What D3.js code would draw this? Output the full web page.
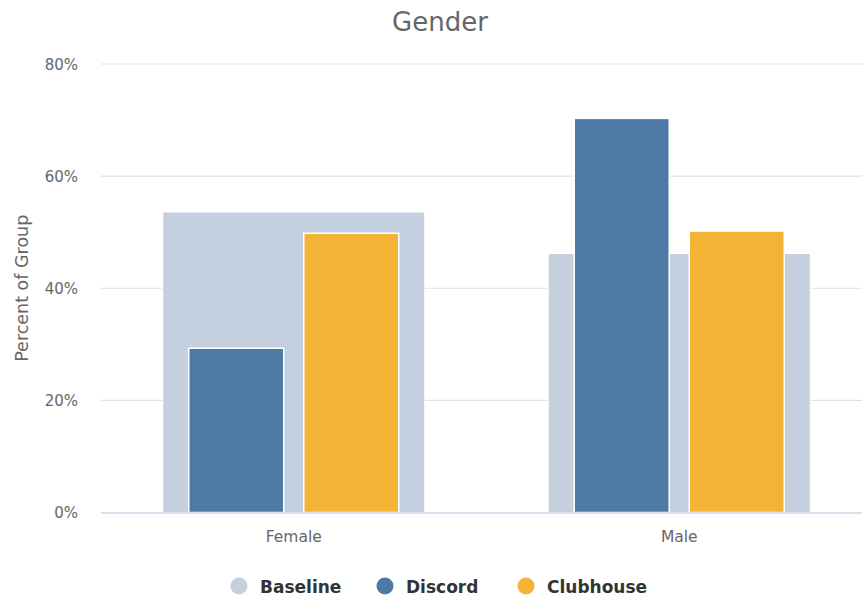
<!DOCTYPE html>
<html>
<head>
<meta charset="utf-8">
<script src="https://cdn.jsdelivr.net/npm/d3@7"></script>
<style>
  body { margin: 0; background: #fff; }
  text { font-family: "DejaVu Sans", "Lucida Grande", sans-serif; }
</style>
</head>
<body>
<svg id="chart" width="862" height="601"></svg>
<script>
var categories = ["Female", "Male"];
var baseline = [53.6, 46.2];
var discord = [29.3, 70.3];
var clubhouse = [49.8, 50.2];
var yTicks = [0, 20, 40, 60, 80];
var seriesNames = ["Baseline", "Discord", "Clubhouse"];
var colors = ["#c4d0df", "#4e79a5", "#f4b335"];

var svg = d3.select("#chart");
var plotLeft = 101, plotRight = 872, plotTop = 64, plotBottom = 512.5;

var x = d3.scaleBand().domain(categories).range([plotLeft, plotRight]);
var y = d3.scaleLinear().domain([0, 80]).range([plotBottom, plotTop]);

// title
svg.append("text")
  .attr("x", 440).attr("y", 31)
  .attr("text-anchor", "middle")
  .attr("fill", "#666").style("font-size", "26px")
  .text("Gender");

// grid
svg.append("g").selectAll("line").data(yTicks.filter(d => d > 0)).join("line")
  .attr("x1", plotLeft).attr("x2", 862)
  .attr("y1", d => y(d)).attr("y2", d => y(d))
  .attr("stroke", "#e2e2e2").attr("stroke-width", 1.2);

// y tick labels
svg.append("g").selectAll("text").data(yTicks).join("text")
  .attr("x", 78).attr("y", d => y(d) + 5.5)
  .attr("text-anchor", "end")
  .attr("fill", "#666").style("font-size", "15px")
  .text(d => d + "%");

// y title
svg.append("text")
  .attr("transform", "translate(28," + ((plotTop + plotBottom) / 2) + ") rotate(-90)")
  .attr("text-anchor", "middle")
  .attr("fill", "#666").style("font-size", "17.5px")
  .text("Percent of Group");

// baseline bars
var bw = 262;
svg.append("g").selectAll("rect").data(baseline).join("rect")
  .attr("x", (d, i) => x(categories[i]) + x.bandwidth() / 2 - bw / 2)
  .attr("width", bw)
  .attr("y", d => y(d))
  .attr("height", d => y(0) - y(d))
  .attr("fill", colors[0])
  .attr("stroke", "#fff").attr("stroke-width", 1);

// discord & clubhouse
var sw = 95, off = 57.5;
[discord, clubhouse].forEach(function(vals, k) {
  svg.append("g").selectAll("rect").data(vals).join("rect")
    .attr("x", (d, i) => x(categories[i]) + x.bandwidth() / 2 + (k === 0 ? -off : off) - sw / 2)
    .attr("width", sw)
    .attr("y", d => y(d))
    .attr("height", d => y(0) - y(d))
    .attr("fill", colors[k + 1])
    .attr("stroke", "#fff").attr("stroke-width", 1.5);
});

// x axis line
svg.append("line")
  .attr("x1", plotLeft).attr("x2", 862)
  .attr("y1", plotBottom + 0.5).attr("y2", plotBottom + 0.5)
  .attr("stroke", "#ccd6eb").attr("stroke-width", 1.5);

// x labels
svg.append("g").selectAll("text").data(categories).join("text")
  .attr("x", d => x(d) + x.bandwidth() / 2)
  .attr("y", 542)
  .attr("text-anchor", "middle")
  .attr("fill", "#666").style("font-size", "15.5px")
  .text(d => d);

// legend
var legendX = [239, 385, 526];
var lg = svg.append("g").selectAll("g").data(seriesNames).join("g")
  .attr("transform", (d, i) => "translate(" + legendX[i] + ",586)");
lg.append("circle").attr("r", 8.5).attr("fill", (d, i) => colors[i]);
lg.append("text")
  .attr("x", 21).attr("y", 6.5)
  .attr("fill", "#333").style("font-size", "17px").style("font-weight", "bold")
  .text(d => d);
</script>
</body>
</html>
